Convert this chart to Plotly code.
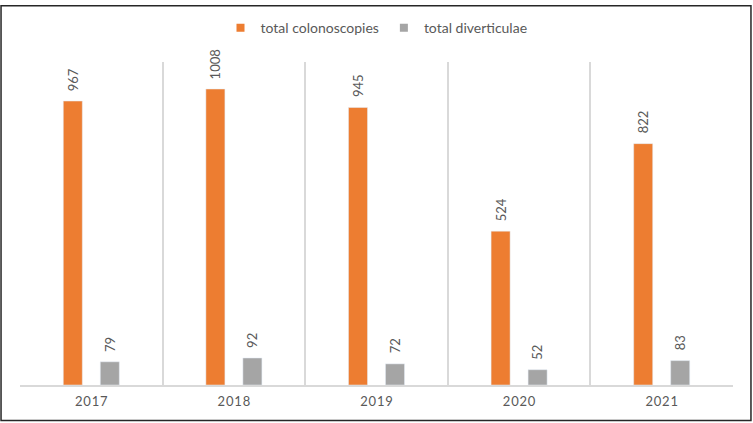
import plotly.graph_objects as go

years = ["2017", "2018", "2019", "2020", "2021"]
colonoscopies = [967, 1008, 945, 524, 822]
diverticulae = [79, 92, 72, 52, 83]
series_names = ["total colonoscopies", "total diverticulae"]

ORANGE = "#ED7D31"
GRAY = "#A5A5A5"
TXT = "#595959"
FONT = "Lato, 'Open Sans', sans-serif"

fig = go.Figure()
fig.add_trace(go.Bar(x=years, y=colonoscopies, name=series_names[0], marker_color=ORANGE,
                     showlegend=False))
fig.add_trace(go.Bar(x=years, y=diverticulae, name=series_names[1], marker_color=GRAY,
                     showlegend=False))
# legend entries with small square swatches
for nm, col in zip(series_names, (ORANGE, GRAY)):
    fig.add_trace(go.Scatter(x=[None], y=[None], mode="markers", name=nm,
                             marker=dict(symbol="square", size=8, color=col)))

annotations = []
for vals, shift in ((colonoscopies, -18.5), (diverticulae, 18.5)):
    for i, v in enumerate(vals):
        annotations.append(dict(
            x=i, y=v, xref="x", yref="y", text=str(v), showarrow=False,
            textangle=-90, xanchor="center", yanchor="bottom", xshift=shift, yshift=8,
            font=dict(family=FONT, size=13, color=TXT)))

tick_text = ["\u200a".join(list(y)) for y in years]

fig.update_layout(
    width=753, height=423,
    margin=dict(l=20, r=20, t=58, b=38),
    paper_bgcolor="white", plot_bgcolor="white",
    barmode="group", bargap=0.481, bargroupgap=0.486,
    font=dict(family=FONT, size=13, color=TXT),
    showlegend=True,
    legend=dict(orientation="h", x=0.5, xanchor="center", y=1.105, yanchor="middle",
                font=dict(family=FONT, size=14, color=TXT), itemwidth=30,
                tracegroupgap=0),
    xaxis=dict(type="category", tickson="boundaries", showgrid=True, gridcolor="#D9D9D9",
               gridwidth=1.5, showline=True, linecolor="#D9D9D9", linewidth=1.5,
               ticks="", tickvals=years, ticktext=tick_text, range=[-0.5, 4.5],
               ticklabelstandoff=4,
               tickfont=dict(family=FONT, size=13, color=TXT), fixedrange=True),
    yaxis=dict(visible=False, range=[0, 1100], fixedrange=True),
    annotations=annotations,
    shapes=[dict(type="rect", xref="paper", yref="paper",
                 x0=-0.0266, x1=1.0252, y0=-0.110, y1=1.174,
                 line=dict(color="#262626", width=1.5), fillcolor="rgba(0,0,0,0)")],
)

fig.write_html("out.html", config={"displayModeBar": False},
               post_script="document.body.style.margin='0';document.body.style.overflow='hidden';")
